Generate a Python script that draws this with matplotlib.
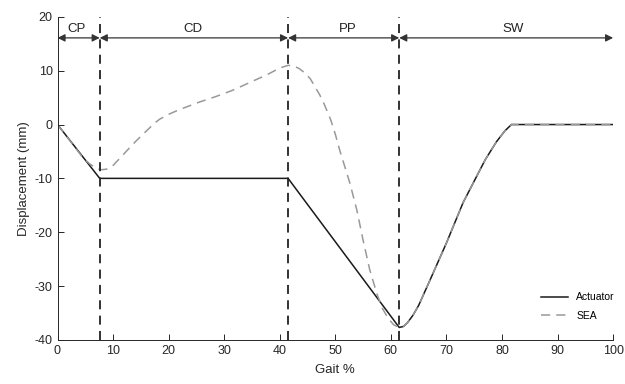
import matplotlib
matplotlib.use("Agg")
import matplotlib.pyplot as plt
import numpy as np

plt.rcParams['font.family'] = ['Liberation Sans', 'DejaVu Sans']
plt.rcParams['axes.unicode_minus'] = False

# actuator displacement (mm) vs gait %
act_x = [0, 7.6, 41.5, 61.5, 62.3, 63, 64, 65, 67, 70, 73, 75, 77, 79, 80.5, 81.7, 100]
act_y = [0, -10, -10, -37.7, -37.5, -36.8, -35.4, -33.6, -29, -22, -14.5, -10.5, -6.5, -3.2, -1.2, 0, 0]

# SEA displacement (mm) vs gait %
sea_x = [0, 4.6, 5.8, 6.8, 7.8, 8.8, 10, 12, 14, 16, 17.5, 18.4, 20, 22, 25.6, 28.5, 31.6,
         35, 37.6, 40, 41.5, 42.5, 43.5, 44.5, 45.5, 46.3, 47.2, 48, 49.2, 50, 50.8, 51.7,
         52.6, 53.9, 55, 56.2, 57.5, 58.5, 59.5, 60.5, 61.5, 62.3, 63, 64, 65, 67, 70, 73,
         75, 77, 79, 80.5, 81.7, 100]
sea_y = [0, -6.2, -7.3, -8.0, -8.4, -8.3, -7.6, -5.4, -3.2, -1.2, 0.3, 1.0, 1.9, 2.8, 4.2,
         5.2, 6.4, 8.0, 9.2, 10.5, 11.0, 10.9, 10.4, 9.6, 8.5, 7.1, 5.5, 3.8, 0.8, -1.8, -4.8,
         -7.8, -10.8, -16, -21.5, -27, -31.5, -34.2, -36.0, -37.2, -37.7, -37.5, -36.8,
         -35.4, -33.6, -29, -22, -14.5, -10.5, -6.5, -3.2, -1.2, 0, 0]

# phase boundaries and labels
bounds = [0, 7.6, 41.5, 61.5, 100]
phases = ['CP', 'CD', 'PP', 'SW']
label_x = [3.5, 24.4, 52.3, 82]

fig = plt.figure(figsize=(6.25, 3.84), dpi=100)
ax = fig.add_axes([0.092, 0.115, 0.889, 0.841])

ax.plot(act_x, act_y, color='#1a1a1a', lw=1.1, label='Actuator')
ax.plot(sea_x, sea_y, color='#999999', lw=1.1, ls=(0, (6, 4)), label='SEA')

for b in bounds[1:-1]:
    ax.axvline(b, color='#222222', lw=1.3, ls=(0, (5, 3.5)), zorder=3)

for i, name in enumerate(phases):
    ax.annotate('', xy=(bounds[i + 1], 16.1), xytext=(bounds[i], 16.1),
                arrowprops=dict(arrowstyle='<|-|>', color='#333333', lw=0.9,
                                shrinkA=0, shrinkB=0, mutation_scale=11))
    ax.text(label_x[i], 17.7, name, ha='center', va='center', fontsize=9.5, color='#222222')

ax.set_xlim(0, 100)
ax.set_ylim(-40, 20)
ax.set_xticks(np.arange(0, 101, 10))
ax.set_yticks(np.arange(-40, 21, 10))
ax.tick_params(direction='in', labelsize=9, colors='#262626', length=4, width=0.7)
for s in ['top', 'right']:
    ax.spines[s].set_visible(False)
for s in ['left', 'bottom']:
    ax.spines[s].set_color('#262626')
    ax.spines[s].set_linewidth(0.7)

ax.set_xlabel('Gait %', fontsize=9.5, color='#262626', labelpad=5)
ax.set_ylabel('Displacement (mm)', fontsize=9.5, color='#262626', labelpad=3)

ax.legend(loc='lower right', frameon=False, fontsize=7.5, handlelength=2.6,
          bbox_to_anchor=(1.02, 0.03), labelspacing=0.8)

fig.savefig('out.png', dpi=100)
